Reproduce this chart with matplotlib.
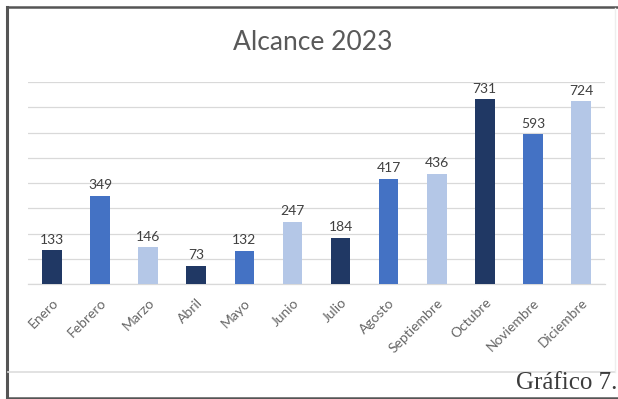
import matplotlib
matplotlib.use("Agg")
import matplotlib.pyplot as plt
from matplotlib.lines import Line2D

months = ["Enero", "Febrero", "Marzo", "Abril", "Mayo", "Junio", "Julio",
          "Agosto", "Septiembre", "Octubre", "Noviembre", "Diciembre"]
reach = [133, 349, 146, 73, 132, 247, 184, 417, 436, 731, 593, 724]
palette = ["#203864", "#4472C4", "#B4C7E7"]
y_ticks = [0, 100, 200, 300, 400, 500, 600, 700, 800]

W, H = 618, 399
fig = plt.figure(figsize=(W / 100, H / 100), dpi=100)
fig.patch.set_facecolor("white")

def fx(px):
    return px / W

def fy(py):
    return 1 - py / H

ax = fig.add_axes([fx(28), fy(284), fx(605) - fx(28), fy(82) - fy(284)])
x = list(range(len(months)))
colors = [palette[i % 3] for i in x]
ax.bar(x, reach, width=0.41, color=colors, zorder=3)
for xi, v in zip(x, reach):
    ax.text(xi, v + 18, str(v), ha="center", va="bottom", fontsize=10,
            color="#404040", family="Lato")

ax.set_xlim(-0.5, len(months) - 0.5)
ax.set_ylim(0, 800)
ax.set_yticks(y_ticks)
ax.yaxis.grid(True, color="#D9D9D9", linewidth=0.9, zorder=0)
ax.tick_params(axis="y", length=0, labelleft=False)
ax.tick_params(axis="x", length=0, pad=9)
ax.set_xticks(x)
ax.set_xticklabels(months, rotation=45, ha="right", rotation_mode="anchor",
                   fontsize=10, color="#666666", family="Lato")
for s in ["top", "right", "left"]:
    ax.spines[s].set_visible(False)
ax.spines["bottom"].set_color("#D9D9D9")
ax.spines["bottom"].set_linewidth(0.9)

fig.text(fx(313), fy(42), "Alcance 2023", ha="center", va="center",
         fontsize=19, color="#595959", family="Lato")

fig.text(fx(617), fy(383), "Gráfico 7.", ha="right", va="center",
         fontsize=18, color="#3C3C3C", family="Liberation Serif")

# page frame and chart-area border
frame = "#555555"
fig.add_artist(Line2D([fx(7), fx(7)], [fy(6.5), fy(397.5)], color=frame, lw=2.2))
fig.add_artist(Line2D([fx(7), fx(618)], [fy(6.5), fy(6.5)], color=frame, lw=1.8))
fig.add_artist(Line2D([fx(7), fx(618)], [fy(397.5), fy(397.5)], color=frame, lw=1.8))
fig.add_artist(Line2D([fx(8), fx(615)], [fy(371.5), fy(371.5)], color="#DDDDDD", lw=1.2))
fig.add_artist(Line2D([fx(615), fx(615)], [fy(8), fy(371.5)], color="#EEEEEE", lw=1.0))

fig.savefig("out.png", dpi=100, facecolor="white")
